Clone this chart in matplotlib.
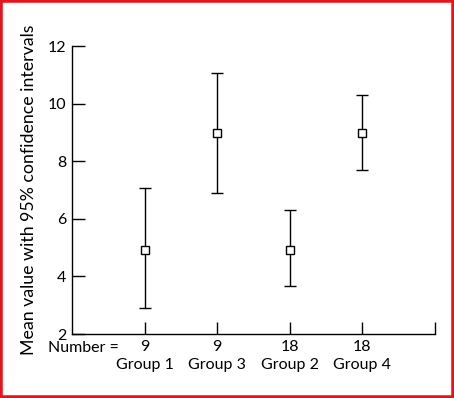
import matplotlib
matplotlib.use("Agg")
import matplotlib.pyplot as plt
from matplotlib.patches import Rectangle

# values
groups = ["Group 1", "Group 3", "Group 2", "Group 4"]
numbers = [9, 9, 18, 18]
means = [4.93, 8.99, 4.93, 8.99]
ci_low = [2.89, 6.88, 3.67, 7.68]
ci_high = [7.06, 11.05, 6.29, 10.31]

plt.rcParams["font.family"] = ["Lato", "DejaVu Sans"]

fig = plt.figure(figsize=(4.54, 3.98), dpi=100)
ax = fig.add_axes([0.1586, 0.1608, 0.7996, 0.7236])

x = list(range(1, len(groups) + 1))
lower = [m - lo for m, lo in zip(means, ci_low)]
upper = [hi - m for m, hi in zip(means, ci_high)]
ax.errorbar(x, means, yerr=[lower, upper], fmt="s", ms=5.5, mfc="white",
            mec="black", mew=1.0, ecolor="black", elinewidth=1.0,
            capsize=4, capthick=1.0)

ax.set_xlim(0, 5)
ax.set_ylim(2, 12)
ax.set_yticks([2, 4, 6, 8, 10, 12])
ax.set_xticks(x + [5])
ax.set_xticklabels([f"{n}\n{g}" for n, g in zip(numbers, groups)] + [""],
                   linespacing=1.4)
ax.tick_params(direction="in", length=9, width=1.0, labelsize=11.5, pad=4)
ax.tick_params(axis="x", pad=4)
ax.spines["top"].set_visible(False)
ax.spines["right"].set_visible(False)
for s in ("left", "bottom"):
    ax.spines[s].set_linewidth(1.0)

ax.set_ylabel("Mean value with 95% confidence intervals", fontsize=12.8, labelpad=8)
fig.text(0.105, 0.125, "Number =", fontsize=11.5, ha="left", va="center")

fig.patches.append(Rectangle((0, 0), 1, 1, transform=fig.transFigure,
                             fill=False, edgecolor="#e8141c", linewidth=4))

fig.savefig("out.png", dpi=100)
